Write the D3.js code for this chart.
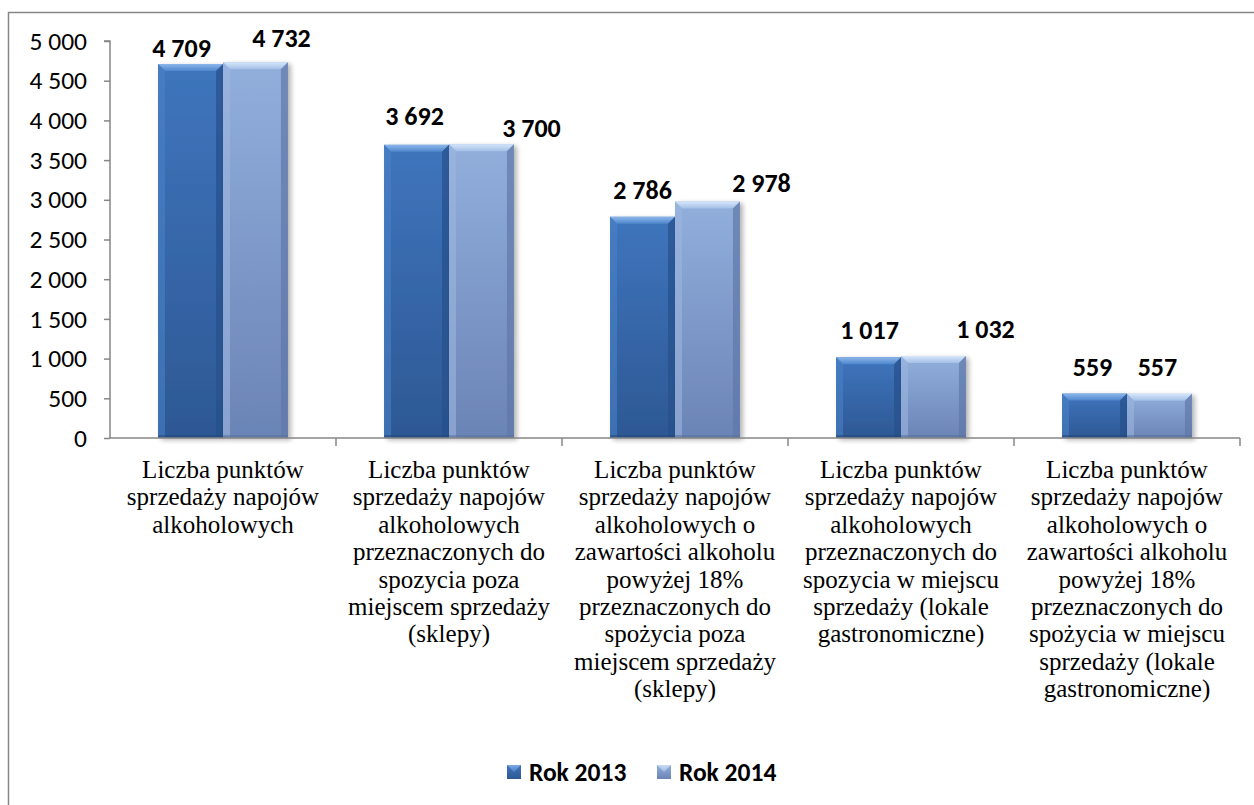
<!DOCTYPE html>
<html><head><meta charset="utf-8">
<script src="https://cdn.jsdelivr.net/npm/d3@7"></script>
<style>
html,body{margin:0;padding:0;background:#fff;}
svg{display:block;}
</style></head>
<body>
<svg id="chart" width="1254" height="805"></svg>
<script>
// ---- data ----
const categories = [
  ["Liczba punktów","sprzedaży napojów","alkoholowych"],
  ["Liczba punktów","sprzedaży napojów","alkoholowych","przeznaczonych do","spozycia poza","miejscem sprzedaży","(sklepy)"],
  ["Liczba punktów","sprzedaży napojów","alkoholowych o","zawartości alkoholu","powyżej 18%","przeznaczonych do","spożycia poza","miejscem sprzedaży","(sklepy)"],
  ["Liczba punktów","sprzedaży napojów","alkoholowych","przeznaczonych do","spozycia w miejscu","sprzedaży (lokale","gastronomiczne)"],
  ["Liczba punktów","sprzedaży napojów","alkoholowych o","zawartości alkoholu","powyżej 18%","przeznaczonych do","spożycia w miejscu","sprzedaży (lokale","gastronomiczne)"]
];
const seriesNames = ["Rok 2013","Rok 2014"];
const values2013 = [4709, 3692, 2786, 1017, 559];
const values2014 = [4732, 3700, 2978, 1032, 557];
const yTicks = [0,500,1000,1500,2000,2500,3000,3500,4000,4500,5000];

// ---- layout (label nudges mimic the reference placement) ----
const labelDx = [[-9,-2,0,1,-2],[26,50,54,52,-2]];
const labelDy = [[-16,-29,-27,-28,-27],[-25,-17,-19,-27,-27]];

const SERIF = '"Liberation Serif"';
const CAL = '"Carlito"';

const svg = d3.select("#chart");
const m = {left:110, right:1240, top:41, bottom:438};
const fmt = v => d3.format(",")(v).replace(/,/g," ");

const defs = svg.append("defs");
function grad(id, stops){
  const g = defs.append("linearGradient").attr("id",id).attr("x1",0).attr("y1",0).attr("x2",0).attr("y2",1);
  stops.forEach(s=>g.append("stop").attr("offset",s[0]).attr("stop-color",s[1]));
}
grad("g0",[[0,"#3f75bd"],[1,"#2d5894"]]);
grad("g1",[[0,"#92afdc"],[1,"#6a84b6"]]);
grad("t0",[[0,"#8cb6ea"],[1,"#4e86cc"]]);
grad("t1",[[0,"#d6e6fa"],[1,"#a3bfe6"]]);
const sh = defs.append("filter").attr("id","shadow").attr("x","-20%").attr("y","-20%").attr("width","150%").attr("height","150%");
sh.append("feGaussianBlur").attr("in","SourceAlpha").attr("stdDeviation",2.5);
sh.append("feOffset").attr("dx",3).attr("dy",2).attr("result","b");
sh.append("feComponentTransfer").append("feFuncA").attr("type","linear").attr("slope",0.3);
const mg = sh.append("feMerge"); mg.append("feMergeNode"); mg.append("feMergeNode").attr("in","SourceGraphic");

// outer border
svg.append("rect").attr("x",8.5).attr("y",12.5).attr("width",1260).attr("height",820)
  .attr("fill","#fff").attr("stroke","#868686").attr("stroke-width",1.5);

const x0 = d3.scaleBand().domain(d3.range(categories.length)).range([m.left,m.right]).paddingInner(0).paddingOuter(0);
const x1 = d3.scaleBand().domain([0,1]).range([0,x0.bandwidth()]).paddingOuter(0.74).paddingInner(0);
const y = d3.scaleLinear().domain([0,5000]).range([m.bottom,m.top]);

// y axis
const yAxis = d3.axisLeft(y).tickValues(yTicks).tickFormat(fmt).tickSize(6).tickPadding(17);
const ga = svg.append("g").attr("transform",`translate(${m.left},0)`).call(yAxis);
ga.attr("font-family",null).attr("font-size",null);
ga.select(".domain").attr("stroke","#868686").attr("stroke-width",1.5).attr("d",`M-6,${m.top}H0V${m.bottom}`);
ga.selectAll(".tick line").attr("stroke","#868686").attr("stroke-width",1.5);
ga.selectAll(".tick text").style("font-family",CAL).style("font-size","25.5px").attr("fill","#000");

// bars
const series = [values2013, values2014];
series.forEach((vals,s)=>{
  const g = svg.append("g");
  vals.forEach((v,i)=>{
    const bx = x0(i)+x1(s), bw = x1.bandwidth(), by = y(v), bh = y(0)-y(v);
    const bg = g.append("g").attr("filter","url(#shadow)");
    bg.append("rect").attr("x",bx).attr("y",by).attr("width",bw).attr("height",bh).attr("fill",`url(#g${s})`);
    const b = 7;
    bg.append("path").attr("d",`M${bx},${by}H${bx+bw}L${bx+bw-b},${by+b}H${bx+b}Z`).attr("fill",`url(#t${s})`);
    bg.append("path").attr("d",`M${bx},${by}L${bx+b},${by+b}V${by+bh}H${bx}Z`).attr("fill",s?"#9cb6e0":"#4a80c6").attr("opacity",0.6);
    bg.append("path").attr("d",`M${bx+bw},${by}L${bx+bw-b},${by+b}V${by+bh}H${bx+bw}Z`).attr("fill",s?"#5f78a8":"#27508a").attr("opacity",0.7);
    bg.append("rect").attr("x",bx).attr("y",by+bh-3).attr("width",bw).attr("height",3).attr("fill",s?"#5a72a0":"#244a80").attr("opacity",0.6);
    svg.append("text").attr("x",bx+bw/2+labelDx[s][i]).attr("y",by+labelDy[s][i]).attr("dy","0.36em")
      .attr("text-anchor","middle").style("font-family",CAL).style("font-weight","bold")
      .style("font-size","26px").attr("fill","#000").text(fmt(v));
  });
});

// x axis
const gx = svg.append("g");
gx.append("line").attr("x1",m.left).attr("x2",m.right).attr("y1",m.bottom).attr("y2",m.bottom).attr("stroke","#868686").attr("stroke-width",1.5);
d3.range(1,categories.length+1).forEach(i=>{
  const xx = i<categories.length ? x0(i) : m.right;
  gx.append("line").attr("x1",xx).attr("x2",xx).attr("y1",m.bottom).attr("y2",m.bottom+8).attr("stroke","#868686").attr("stroke-width",1.5);
});
const gc = svg.append("g");
categories.forEach((lines,i)=>{
  lines.forEach((ln,k)=>gc.append("text")
    .attr("x",x0(i)+x0.bandwidth()/2).attr("y",478+k*27.4)
    .attr("text-anchor","middle").style("font-family",SERIF).style("font-size","25px").attr("fill","#000")
    .text(ln));
});

// legend
const leg = svg.append("g");
const legX = [507, 657];
seriesNames.forEach((n,s)=>{
  const lx = legX[s];
  leg.append("rect").attr("x",lx).attr("y",765).attr("width",14).attr("height",14).attr("fill",`url(#g${s})`);
  leg.append("path").attr("d",`M${lx},765H${lx+14}L${lx+7},772Z`).attr("fill",`url(#t${s})`).attr("opacity",0.8);
  leg.append("text").attr("x",lx+22).attr("y",772).attr("dy","0.36em").style("font-family",CAL)
    .style("font-weight","bold").style("font-size","25.5px").attr("fill","#000").text(n);
});
</script>
</body></html>
